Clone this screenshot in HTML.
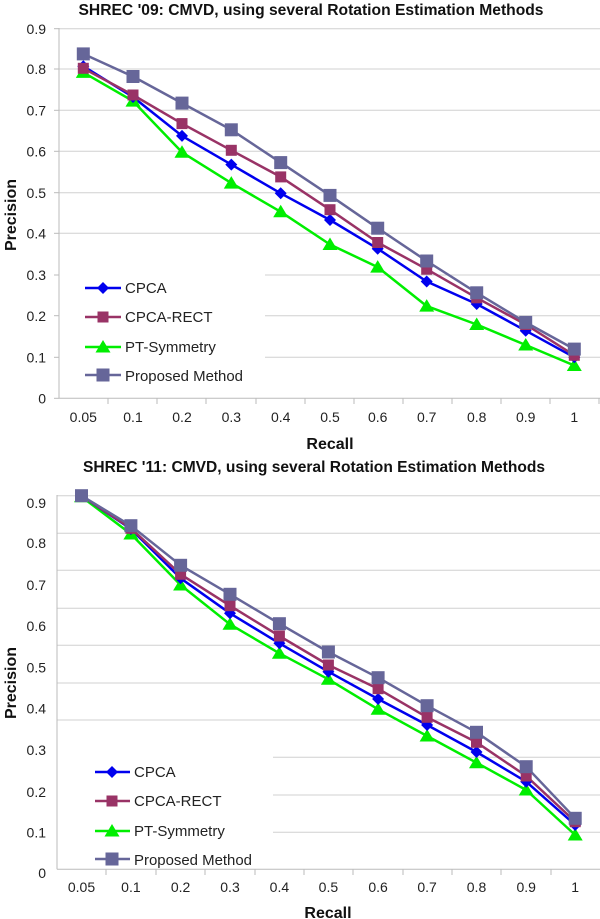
<!DOCTYPE html>
<html><head><meta charset="utf-8"><style>
html,body{margin:0;padding:0;background:#fff;}
svg{display:block;font-family:"Liberation Sans",sans-serif;}
</style></head><body>
<svg width="600" height="919" viewBox="0 0 600 919" xmlns="http://www.w3.org/2000/svg">
<defs>
<g id="dia"><path d="M0,-6 L6,0 L0,6 L-6,0Z"/></g>
<g id="sq"><rect x="-5.5" y="-5.5" width="11" height="11"/></g>
<g id="sqb"><rect x="-6.5" y="-6.5" width="13" height="13"/></g>
<g id="tri"><path d="M0,-7 L7.5,5.5 L-7.5,5.5Z"/></g>
</defs>

<!-- TOP CHART -->
<text x="311" y="15" font-size="15.5" font-weight="bold" text-anchor="middle" fill="#111" textLength="465" lengthAdjust="spacingAndGlyphs">SHREC '09: CMVD, using several Rotation Estimation Methods</text>
<g stroke="#d0d0d0" stroke-width="1">
<line x1="59" y1="28.7" x2="600" y2="28.7"/><line x1="59" y1="69" x2="600" y2="69"/>
<line x1="59" y1="110.3" x2="600" y2="110.3"/><line x1="59" y1="151.3" x2="600" y2="151.3"/>
<line x1="59" y1="192.7" x2="600" y2="192.7"/><line x1="59" y1="233.3" x2="600" y2="233.3"/>
<line x1="265" y1="275" x2="600" y2="275"/><line x1="265" y1="315.7" x2="600" y2="315.7"/>
<line x1="265" y1="357.3" x2="600" y2="357.3"/>
<line x1="59" y1="398.3" x2="600" y2="398.3" stroke="#bbb"/>
<line x1="59" y1="28" x2="59" y2="398.3" stroke="#bbb"/>
</g>
<g stroke="#bbb"><line x1="54" y1="28.7" x2="59" y2="28.7"/><line x1="54" y1="69" x2="59" y2="69"/><line x1="54" y1="110.3" x2="59" y2="110.3"/><line x1="54" y1="151.3" x2="59" y2="151.3"/><line x1="54" y1="192.7" x2="59" y2="192.7"/><line x1="54" y1="233.3" x2="59" y2="233.3"/><line x1="54" y1="275" x2="59" y2="275"/><line x1="54" y1="315.7" x2="59" y2="315.7"/><line x1="54" y1="357.3" x2="59" y2="357.3"/><line x1="54" y1="398.3" x2="59" y2="398.3"/>
<line x1="108" y1="398" x2="108" y2="404"/><line x1="157" y1="398" x2="157" y2="404"/><line x1="206" y1="398" x2="206" y2="404"/><line x1="256" y1="398" x2="256" y2="404"/><line x1="305" y1="398" x2="305" y2="404"/><line x1="354" y1="398" x2="354" y2="404"/><line x1="403" y1="398" x2="403" y2="404"/><line x1="452" y1="398" x2="452" y2="404"/><line x1="501" y1="398" x2="501" y2="404"/><line x1="550" y1="398" x2="550" y2="404"/><line x1="599" y1="398" x2="599" y2="404"/></g>
<g font-size="14" fill="#222" text-anchor="end">
<text x="46" y="34">0.9</text><text x="46" y="74">0.8</text><text x="46" y="115.5">0.7</text><text x="46" y="156.5">0.6</text><text x="46" y="198">0.5</text><text x="46" y="238.5">0.4</text><text x="46" y="280">0.3</text><text x="46" y="321">0.2</text><text x="46" y="362.5">0.1</text><text x="46" y="403.5">0</text>
</g>
<g font-size="14" fill="#222" text-anchor="middle">
<text x="83.3" y="422">0.05</text><text x="133" y="422">0.1</text><text x="182" y="422">0.2</text><text x="231.3" y="422">0.3</text><text x="280.7" y="422">0.4</text><text x="330" y="422">0.5</text><text x="377.7" y="422">0.6</text><text x="426.7" y="422">0.7</text><text x="476.7" y="422">0.8</text><text x="525.7" y="422">0.9</text><text x="574.3" y="422">1</text>
</g>
<text x="330" y="449" font-size="16" font-weight="bold" text-anchor="middle" fill="#111">Recall</text>
<text transform="translate(16,215) rotate(-90)" font-size="16" font-weight="bold" text-anchor="middle" fill="#111">Precision</text>

<g fill="none" stroke-width="2.5" stroke-linejoin="round">
<polyline stroke="#00ee00" points="83.3,72.4 133,101.1 182,152.3 231.3,183.1 280.7,211.8 330,244.5 377.7,267.1 426.7,306.1 476.7,324.5 525.7,345 574.3,365.5"/>
<polyline stroke="#0000ee" points="83.3,66.2 133,97 182,135.9 231.3,164.6 280.7,193.3 330,220 377.7,248.7 426.7,281.5 476.7,304 525.7,330.7 574.3,357.3"/>
<polyline stroke="#993366" points="83.3,68.3 133,95 182,123.6 231.3,150.3 280.7,176.9 330,209.7 377.7,242.5 426.7,269.2 476.7,297.8 525.7,324.5 574.3,355.3"/>
<polyline stroke="#666699" points="83.3,53.9 133,76.5 182,103.1 231.3,129.8 280.7,162.6 330,195.4 377.7,228.2 426.7,261 476.7,292.8 525.7,322.4 574.3,349.1"/>
</g>
<g fill="#00ee00"><use href="#tri" x="83.3" y="72.4"/><use href="#tri" x="133" y="101.1"/><use href="#tri" x="182" y="152.3"/><use href="#tri" x="231.3" y="183.1"/><use href="#tri" x="280.7" y="211.8"/><use href="#tri" x="330" y="244.5"/><use href="#tri" x="377.7" y="267.1"/><use href="#tri" x="426.7" y="306.1"/><use href="#tri" x="476.7" y="324.5"/><use href="#tri" x="525.7" y="345"/><use href="#tri" x="574.3" y="365.5"/></g>
<g fill="#0000ee"><use href="#dia" x="83.3" y="66.2"/><use href="#dia" x="133" y="97"/><use href="#dia" x="182" y="135.9"/><use href="#dia" x="231.3" y="164.6"/><use href="#dia" x="280.7" y="193.3"/><use href="#dia" x="330" y="220"/><use href="#dia" x="377.7" y="248.7"/><use href="#dia" x="426.7" y="281.5"/><use href="#dia" x="476.7" y="304"/><use href="#dia" x="525.7" y="330.7"/><use href="#dia" x="574.3" y="357.3"/></g>
<g fill="#993366"><use href="#sq" x="83.3" y="68.3"/><use href="#sq" x="133" y="95"/><use href="#sq" x="182" y="123.6"/><use href="#sq" x="231.3" y="150.3"/><use href="#sq" x="280.7" y="176.9"/><use href="#sq" x="330" y="209.7"/><use href="#sq" x="377.7" y="242.5"/><use href="#sq" x="426.7" y="269.2"/><use href="#sq" x="476.7" y="297.8"/><use href="#sq" x="525.7" y="324.5"/><use href="#sq" x="574.3" y="355.3"/></g>
<g fill="#666699"><use href="#sqb" x="83.3" y="53.9"/><use href="#sqb" x="133" y="76.5"/><use href="#sqb" x="182" y="103.1"/><use href="#sqb" x="231.3" y="129.8"/><use href="#sqb" x="280.7" y="162.6"/><use href="#sqb" x="330" y="195.4"/><use href="#sqb" x="377.7" y="228.2"/><use href="#sqb" x="426.7" y="261"/><use href="#sqb" x="476.7" y="292.8"/><use href="#sqb" x="525.7" y="322.4"/><use href="#sqb" x="574.3" y="349.1"/></g>

<g stroke-width="2.5">
<line x1="85" y1="288" x2="121" y2="288" stroke="#0000ee"/><use href="#dia" x="103" y="288" fill="#0000ee"/>
<line x1="85" y1="317" x2="121" y2="317" stroke="#993366"/><use href="#sq" x="103" y="317" fill="#993366"/>
<line x1="85" y1="347" x2="121" y2="347" stroke="#00ee00"/><use href="#tri" x="103" y="347" fill="#00ee00"/>
<line x1="85" y1="375" x2="121" y2="375" stroke="#666699"/><use href="#sqb" x="103" y="375" fill="#666699"/>
</g>
<g font-size="15" fill="#222">
<text x="125" y="293">CPCA</text><text x="125" y="322">CPCA-RECT</text><text x="125" y="352">PT-Symmetry</text><text x="125" y="381" textLength="118" lengthAdjust="spacingAndGlyphs">Proposed Method</text>
</g>

<!-- BOTTOM CHART -->
<text x="314" y="472" font-size="15.5" font-weight="bold" text-anchor="middle" fill="#111" textLength="462" lengthAdjust="spacingAndGlyphs">SHREC '11: CMVD, using several Rotation Estimation Methods</text>
<g stroke="#d0d0d0" stroke-width="1">
<line x1="57" y1="495.7" x2="600" y2="495.7"/><line x1="57" y1="533.3" x2="600" y2="533.3"/>
<line x1="57" y1="570.3" x2="600" y2="570.3"/><line x1="57" y1="608.3" x2="600" y2="608.3"/>
<line x1="57" y1="645.3" x2="600" y2="645.3"/><line x1="57" y1="683" x2="600" y2="683"/>
<line x1="57" y1="720" x2="600" y2="720"/><line x1="273" y1="757.3" x2="600" y2="757.3"/>
<line x1="273" y1="795" x2="600" y2="795"/><line x1="273" y1="832.3" x2="600" y2="832.3"/>
<line x1="57" y1="869.3" x2="600" y2="869.3" stroke="#bbb"/>
<line x1="57" y1="495" x2="57" y2="869.3" stroke="#bbb"/>
</g>
<g stroke="#bbb"><line x1="106" y1="869" x2="106" y2="875"/><line x1="156" y1="869" x2="156" y2="875"/><line x1="205" y1="869" x2="205" y2="875"/><line x1="255" y1="869" x2="255" y2="875"/><line x1="304" y1="869" x2="304" y2="875"/><line x1="353" y1="869" x2="353" y2="875"/><line x1="403" y1="869" x2="403" y2="875"/><line x1="452" y1="869" x2="452" y2="875"/><line x1="501" y1="869" x2="501" y2="875"/><line x1="551" y1="869" x2="551" y2="875"/></g>
<g font-size="14" fill="#222" text-anchor="end">
<text x="46" y="508">0.9</text><text x="46" y="548">0.8</text><text x="46" y="590">0.7</text><text x="46" y="631">0.6</text><text x="46" y="672.5">0.5</text><text x="46" y="713.5">0.4</text><text x="46" y="755">0.3</text><text x="46" y="797">0.2</text><text x="46" y="837.5">0.1</text><text x="46" y="878">0</text>
</g>
<g font-size="14" fill="#222" text-anchor="middle">
<text x="81.5" y="892">0.05</text><text x="130.9" y="892">0.1</text><text x="180.6" y="892">0.2</text><text x="230" y="892">0.3</text><text x="279.4" y="892">0.4</text><text x="328.4" y="892">0.5</text><text x="378.1" y="892">0.6</text><text x="427.1" y="892">0.7</text><text x="476.5" y="892">0.8</text><text x="526.2" y="892">0.9</text><text x="575.2" y="892">1</text>
</g>
<text x="328" y="918" font-size="16" font-weight="bold" text-anchor="middle" fill="#111">Recall</text>
<text transform="translate(16,683) rotate(-90)" font-size="16" font-weight="bold" text-anchor="middle" fill="#111">Precision</text>

<g fill="none" stroke-width="2.5" stroke-linejoin="round">
<polyline stroke="#00ee00" points="81.5,496.7 130.9,534 180.6,585 230,624.3 279.4,653.3 328.4,679.3 378.1,709.3 427.1,736 476.5,762.7 526.2,790 575.2,835"/>
<polyline stroke="#0000ee" points="81.5,495.7 130.9,529 180.6,578.3 230,613.3 279.4,643.3 328.4,671.7 378.1,699 427.1,725 476.5,752 526.2,781.7 575.2,825"/>
<polyline stroke="#993366" points="81.5,495.7 130.9,528.3 180.6,574.3 230,605.7 279.4,636 328.4,665 378.1,688.7 427.1,717.3 476.5,742.3 526.2,776 575.2,821.7"/>
<polyline stroke="#666699" points="81.5,495.7 130.9,525.7 180.6,565.3 230,594.3 279.4,623.7 328.4,652 378.1,677.7 427.1,705.7 476.5,732.3 526.2,766.7 575.2,818.3"/>
</g>
<g fill="#00ee00"><use href="#tri" x="81.5" y="496.7"/><use href="#tri" x="130.9" y="534"/><use href="#tri" x="180.6" y="585"/><use href="#tri" x="230" y="624.3"/><use href="#tri" x="279.4" y="653.3"/><use href="#tri" x="328.4" y="679.3"/><use href="#tri" x="378.1" y="709.3"/><use href="#tri" x="427.1" y="736"/><use href="#tri" x="476.5" y="762.7"/><use href="#tri" x="526.2" y="790"/><use href="#tri" x="575.2" y="835"/></g>
<g fill="#0000ee"><use href="#dia" x="81.5" y="495.7"/><use href="#dia" x="130.9" y="529"/><use href="#dia" x="180.6" y="578.3"/><use href="#dia" x="230" y="613.3"/><use href="#dia" x="279.4" y="643.3"/><use href="#dia" x="328.4" y="671.7"/><use href="#dia" x="378.1" y="699"/><use href="#dia" x="427.1" y="725"/><use href="#dia" x="476.5" y="752"/><use href="#dia" x="526.2" y="781.7"/><use href="#dia" x="575.2" y="825"/></g>
<g fill="#993366"><use href="#sq" x="81.5" y="495.7"/><use href="#sq" x="130.9" y="528.3"/><use href="#sq" x="180.6" y="574.3"/><use href="#sq" x="230" y="605.7"/><use href="#sq" x="279.4" y="636"/><use href="#sq" x="328.4" y="665"/><use href="#sq" x="378.1" y="688.7"/><use href="#sq" x="427.1" y="717.3"/><use href="#sq" x="476.5" y="742.3"/><use href="#sq" x="526.2" y="776"/><use href="#sq" x="575.2" y="821.7"/></g>
<g fill="#666699"><use href="#sqb" x="81.5" y="495.7"/><use href="#sqb" x="130.9" y="525.7"/><use href="#sqb" x="180.6" y="565.3"/><use href="#sqb" x="230" y="594.3"/><use href="#sqb" x="279.4" y="623.7"/><use href="#sqb" x="328.4" y="652"/><use href="#sqb" x="378.1" y="677.7"/><use href="#sqb" x="427.1" y="705.7"/><use href="#sqb" x="476.5" y="732.3"/><use href="#sqb" x="526.2" y="766.7"/><use href="#sqb" x="575.2" y="818.3"/></g>

<g stroke-width="2.5">
<line x1="95" y1="772" x2="130" y2="772" stroke="#0000ee"/><use href="#dia" x="112" y="772" fill="#0000ee"/>
<line x1="95" y1="801" x2="130" y2="801" stroke="#993366"/><use href="#sq" x="112" y="801" fill="#993366"/>
<line x1="95" y1="831" x2="130" y2="831" stroke="#00ee00"/><use href="#tri" x="112" y="831" fill="#00ee00"/>
<line x1="95" y1="859" x2="130" y2="859" stroke="#666699"/><use href="#sqb" x="112" y="859" fill="#666699"/>
</g>
<g font-size="15" fill="#222">
<text x="134" y="777">CPCA</text><text x="134" y="806">CPCA-RECT</text><text x="134" y="836">PT-Symmetry</text><text x="134" y="865" textLength="118" lengthAdjust="spacingAndGlyphs">Proposed Method</text>
</g>
</svg>
</body></html>
